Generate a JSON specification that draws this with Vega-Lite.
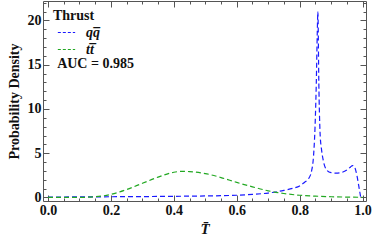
{
  "$schema": "https://vega.github.io/schema/vega-lite/v6.json",
  "width": 323,
  "height": 200,
  "autosize": {"type": "none"},
  "padding": {"left": 43, "top": 1, "right": 8, "bottom": 42},
  "background": "white",
  "config": {
    "view": {"stroke": "#555", "strokeWidth": 1},
    "font": "Liberation Serif",
    "axis": {
      "labelFont": "Liberation Serif",
      "labelFontWeight": "bold",
      "labelFontSize": 14,
      "labelColor": "#111",
      "titleFont": "Liberation Serif",
      "titleFontWeight": "bold",
      "titleColor": "#111",
      "titleFontSize": 14,
      "grid": false,
      "domain": false,
      "tickColor": "#555",
      "tickWidth": 1
    }
  },
  "datasets": {
    "curves": [
      {"T": 0.0, "d": 0.05, "s": "qq"}, {"T": 0.1, "d": 0.06, "s": "qq"}, {"T": 0.2, "d": 0.08, "s": "qq"},
      {"T": 0.3, "d": 0.1, "s": "qq"}, {"T": 0.4, "d": 0.13, "s": "qq"}, {"T": 0.5, "d": 0.17, "s": "qq"},
      {"T": 0.55, "d": 0.2, "s": "qq"}, {"T": 0.6, "d": 0.25, "s": "qq"}, {"T": 0.65, "d": 0.35, "s": "qq"},
      {"T": 0.7, "d": 0.5, "s": "qq"}, {"T": 0.75, "d": 0.8, "s": "qq"}, {"T": 0.78, "d": 1.05, "s": "qq"},
      {"T": 0.8, "d": 1.3, "s": "qq"}, {"T": 0.815, "d": 1.7, "s": "qq"}, {"T": 0.828, "d": 2.1, "s": "qq"},
      {"T": 0.838, "d": 3.0, "s": "qq"}, {"T": 0.844, "d": 4.6, "s": "qq"}, {"T": 0.849, "d": 8.0, "s": "qq"},
      {"T": 0.853, "d": 13.0, "s": "qq"}, {"T": 0.856, "d": 18.5, "s": "qq"}, {"T": 0.858, "d": 21.0, "s": "qq"},
      {"T": 0.861, "d": 13.0, "s": "qq"}, {"T": 0.865, "d": 7.25, "s": "qq"}, {"T": 0.87, "d": 5.3, "s": "qq"},
      {"T": 0.875, "d": 4.2, "s": "qq"}, {"T": 0.886, "d": 3.1, "s": "qq"}, {"T": 0.9, "d": 2.8, "s": "qq"},
      {"T": 0.915, "d": 2.75, "s": "qq"}, {"T": 0.93, "d": 2.8, "s": "qq"}, {"T": 0.95, "d": 3.1, "s": "qq"},
      {"T": 0.962, "d": 3.45, "s": "qq"}, {"T": 0.968, "d": 3.6, "s": "qq"}, {"T": 0.975, "d": 3.4, "s": "qq"},
      {"T": 0.982, "d": 2.5, "s": "qq"}, {"T": 0.988, "d": 1.3, "s": "qq"}, {"T": 0.994, "d": 0.05, "s": "qq"},
      {"T": 0.0, "d": 0.0, "s": "tt"}, {"T": 0.1, "d": 0.01, "s": "tt"}, {"T": 0.15, "d": 0.08, "s": "tt"},
      {"T": 0.2, "d": 0.35, "s": "tt"}, {"T": 0.25, "d": 0.9, "s": "tt"}, {"T": 0.3, "d": 1.6, "s": "tt"},
      {"T": 0.35, "d": 2.3, "s": "tt"}, {"T": 0.4, "d": 2.85, "s": "tt"}, {"T": 0.43, "d": 2.95, "s": "tt"},
      {"T": 0.45, "d": 2.92, "s": "tt"}, {"T": 0.5, "d": 2.7, "s": "tt"}, {"T": 0.55, "d": 2.25, "s": "tt"},
      {"T": 0.6, "d": 1.7, "s": "tt"}, {"T": 0.65, "d": 1.2, "s": "tt"}, {"T": 0.7, "d": 0.75, "s": "tt"},
      {"T": 0.75, "d": 0.45, "s": "tt"}, {"T": 0.8, "d": 0.25, "s": "tt"}, {"T": 0.85, "d": 0.15, "s": "tt"},
      {"T": 0.9, "d": 0.08, "s": "tt"}, {"T": 0.95, "d": 0.04, "s": "tt"}, {"T": 1.0, "d": 0.02, "s": "tt"}
    ],
    "note": [{"T": 0.029, "d": 15.1, "label": "AUC = 0.985"}]
  },
  "layer": [
    {
      "data": {"name": "curves"},
      "transform": [{"calculate": "datum.s == 'qq' ? 'q' + 'q\u0305' : 't' + 't\u0305'", "as": "series"}],
      "mark": {"type": "line", "strokeDash": [5, 3], "strokeWidth": 1.2, "interpolate": "monotone", "clip": true},
      "encoding": {
        "x": {
          "field": "T", "type": "quantitative",
          "scale": {"domain": [-0.016, 1.011], "nice": false, "zero": false},
          "axis": {
            "orient": "bottom",
            "title": "T\u0304",
            "titleFontStyle": "italic",
            "titleFontSize": 15,
            "titlePadding": 4,
            "values": [0, 0.05, 0.1, 0.15, 0.2, 0.25, 0.3, 0.35, 0.4, 0.45, 0.5, 0.55, 0.6, 0.65, 0.7, 0.75, 0.8, 0.85, 0.9, 0.95, 1.0],
            "labelExpr": "abs(datum.value*5 - round(datum.value*5)) < 0.001 ? format(datum.value, '.1f') : ''",
            "tickSize": {"condition": {"test": "abs(datum.value*5 - round(datum.value*5)) < 0.001", "value": -6}, "value": -3},
            "labelPadding": 8
          }
        },
        "y": {
          "field": "d", "type": "quantitative",
          "scale": {"domain": [-0.4, 22.2], "nice": false, "zero": false},
          "axis": {
            "orient": "left",
            "title": "Probability Density",
            "titlePadding": 6,
            "values": [0,1,2,3,4,5,6,7,8,9,10,11,12,13,14,15,16,17,18,19,20,21,22],
            "labelExpr": "datum.value % 5 == 0 ? datum.value : ''",
            "tickSize": {"condition": {"test": "datum.value % 5 == 0", "value": -6}, "value": -3},
            "labelPadding": 8
          }
        },
        "color": {
          "field": "series", "type": "nominal",
          "scale": {"domain": ["q\u0071\u0305", "t\u0074\u0305"], "range": ["#1a1aff", "#22a822"]},
          "legend": {
            "orient": "none",
            "legendX": 10,
            "legendY": 8,
            "title": "Thrust",
            "titleFont": "Liberation Serif",
            "titleFontWeight": "bold",
            "titleFontSize": 14,
            "titleColor": "#111",
            "titlePadding": 0,
            "labelFont": "Liberation Serif",
            "labelFontWeight": "bold",
            "labelFontStyle": "italic",
            "labelFontSize": 14,
            "labelColor": "#111",
            "labelOffset": 10,
            "labelLimit": 40,
            "symbolType": "stroke",
            "symbolSize": 300,
            "symbolStrokeWidth": 1,
            "symbolDash": [3, 2],
            "symbolOffset": 4,
            "rowPadding": -3
          }
        }
      }
    },
    {
      "data": {"name": "curves"},
      "mark": {"type": "line", "opacity": 0},
      "encoding": {
        "x": {
          "field": "T", "type": "quantitative",
          "axis": {
            "orient": "top", "title": null, "labels": false,
            "values": [0, 0.05, 0.1, 0.15, 0.2, 0.25, 0.3, 0.35, 0.4, 0.45, 0.5, 0.55, 0.6, 0.65, 0.7, 0.75, 0.8, 0.85, 0.9, 0.95, 1.0],
            "tickSize": {"condition": {"test": "abs(datum.value*5 - round(datum.value*5)) < 0.001", "value": -6}, "value": -3}
          }
        },
        "y": {
          "field": "d", "type": "quantitative",
          "axis": {
            "orient": "right", "title": null, "labels": false,
            "values": [0,1,2,3,4,5,6,7,8,9,10,11,12,13,14,15,16,17,18,19,20,21,22],
            "tickSize": {"condition": {"test": "datum.value % 5 == 0", "value": -6}, "value": -3}
          }
        },
        "detail": {"field": "s", "type": "nominal"}
      }
    },
    {
      "data": {"name": "note"},
      "mark": {"type": "text", "align": "left", "baseline": "middle", "font": "Liberation Serif", "fontWeight": "bold", "fontSize": 14, "color": "#111"},
      "encoding": {
        "x": {"field": "T", "type": "quantitative", "axis": null},
        "y": {"field": "d", "type": "quantitative", "axis": null},
        "text": {"field": "label"}
      }
    }
  ],
  "resolve": {"axis": {"x": "independent", "y": "independent"}}
}
